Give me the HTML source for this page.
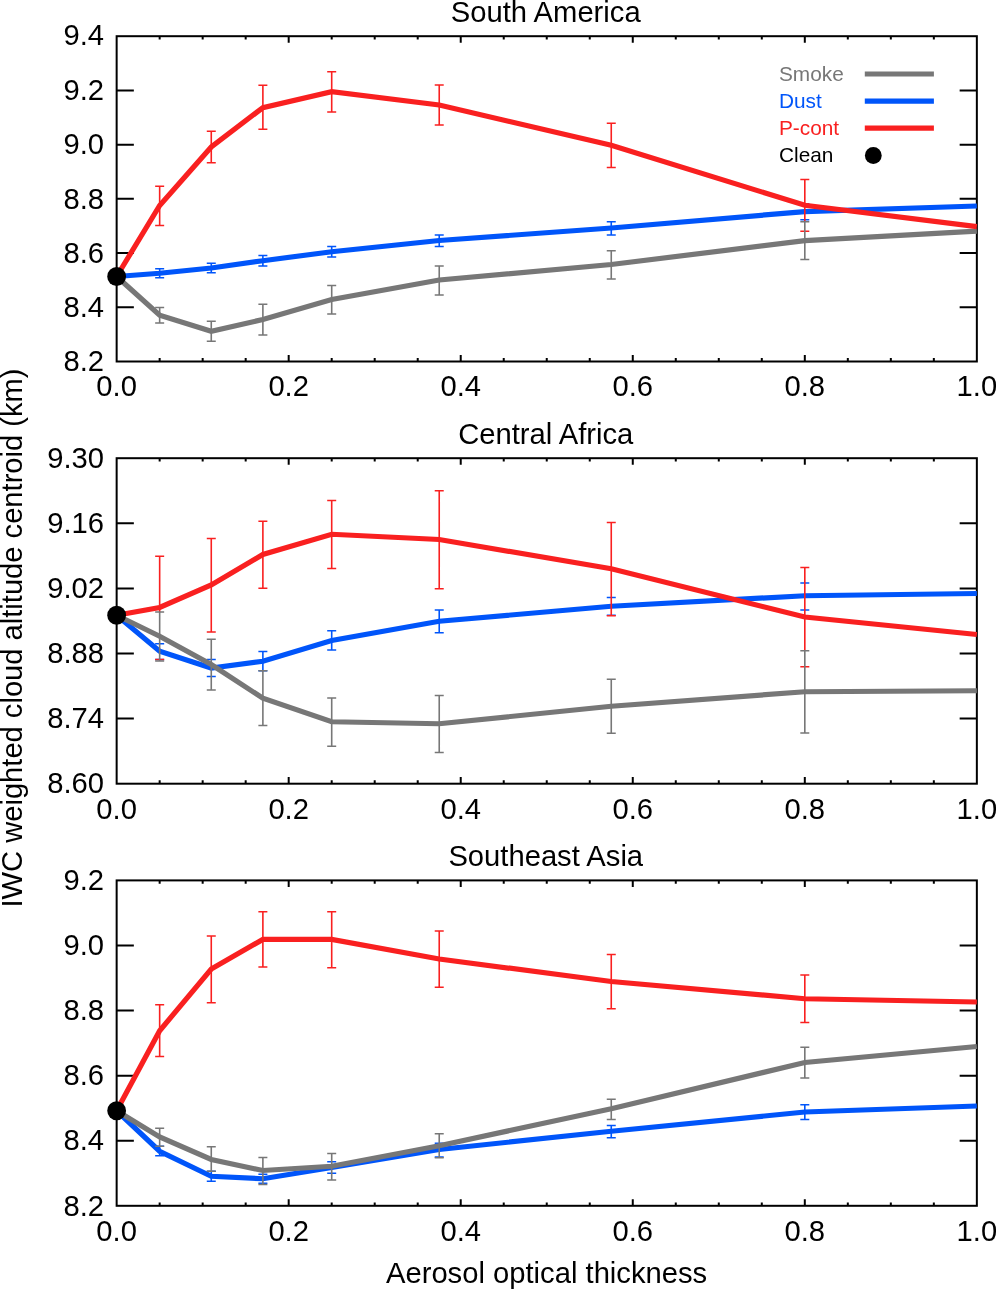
<!DOCTYPE html>
<html lang="en"><head><meta charset="utf-8"><title>IWC weighted cloud altitude centroid vs aerosol optical thickness</title>
<style>html,body{margin:0;padding:0;background:#fff;}body{width:996px;height:1289px;overflow:hidden;}svg{display:block;}text{font-family:"Liberation Sans",Arial,Helvetica,sans-serif;fill:#000;}</style></head><body>
<svg width="996" height="1289" viewBox="0 0 996 1289">
<rect x="0" y="0" width="996" height="1289" fill="#fff"/>
<g>
<text x="545.75" y="21.5" font-size="29.2" text-anchor="middle">South America</text>
<path d="M159.66 36.2v3.4M159.66 361.5v-3.4M202.67 36.2v3.4M202.67 361.5v-3.4M245.68 36.2v3.4M245.68 361.5v-3.4M288.69 36.2v6.6M288.69 361.5v-6.6M331.7 36.2v3.4M331.7 361.5v-3.4M374.71 36.2v3.4M374.71 361.5v-3.4M417.72 36.2v3.4M417.72 361.5v-3.4M460.73 36.2v6.6M460.73 361.5v-6.6M503.74 36.2v3.4M503.74 361.5v-3.4M546.75 36.2v3.4M546.75 361.5v-3.4M589.76 36.2v3.4M589.76 361.5v-3.4M632.77 36.2v6.6M632.77 361.5v-6.6M675.78 36.2v3.4M675.78 361.5v-3.4M718.79 36.2v3.4M718.79 361.5v-3.4M761.8 36.2v3.4M761.8 361.5v-3.4M804.81 36.2v6.6M804.81 361.5v-6.6M847.82 36.2v3.4M847.82 361.5v-3.4M890.83 36.2v3.4M890.83 361.5v-3.4M933.84 36.2v3.4M933.84 361.5v-3.4M116.65 90.42h17.2M976.85 90.42h-17.2M116.65 144.63h17.2M976.85 144.63h-17.2M116.65 198.85h17.2M976.85 198.85h-17.2M116.65 253.07h17.2M976.85 253.07h-17.2M116.65 307.28h17.2M976.85 307.28h-17.2" fill="none" stroke="#000" stroke-width="2"/>
<rect x="116.65" y="36.2" width="860.2" height="325.3" fill="none" stroke="#000" stroke-width="2"/>
<polyline points="116.65,276.5 159.66,273.25 211.27,268 262.88,260.75 331.7,251.75 439.23,240.5 611.26,228 804.81,211.6 976.85,206" fill="none" stroke="#0055fa" stroke-width="5.2" stroke-linejoin="miter" stroke-linecap="butt"/>
<path d="M159.66 268.75V277.75M155.16 268.75H164.16M155.16 277.75H164.16M211.27 263.25V272.75M206.77 263.25H215.77M206.77 272.75H215.77M262.88 255.5V266M258.38 255.5H267.38M258.38 266H267.38M331.7 246.5V257M327.2 246.5H336.2M327.2 257H336.2M439.23 235V246.5M434.73 235H443.73M434.73 246.5H443.73M611.26 221.75V235M606.76 221.75H615.76M606.76 235H615.76M800.31 203.8H809.31M800.31 219.75H809.31" fill="none" stroke="#0055fa" stroke-width="1.6"/>
<polyline points="116.65,276.5 159.66,315.3 211.27,331.25 262.88,319.5 331.7,299.5 439.23,280 611.26,264.5 804.81,240.6 976.85,231.1" fill="none" stroke="#777777" stroke-width="5.2" stroke-linejoin="miter" stroke-linecap="butt"/>
<polyline points="116.65,276.5 159.66,205.5 211.27,147 262.88,107.6 331.7,91.75 439.23,105 611.26,145.3 804.81,205.3 976.85,226.6" fill="none" stroke="#f92020" stroke-width="5.2" stroke-linejoin="miter" stroke-linecap="butt"/>
<path d="M159.66 186.25V225.5M155.16 186.25H164.16M155.16 225.5H164.16M211.27 131.25V162.75M206.77 131.25H215.77M206.77 162.75H215.77M262.88 85.25V129.25M258.38 85.25H267.38M258.38 129.25H267.38M331.7 71.75V112M327.2 71.75H336.2M327.2 112H336.2M439.23 85V125M434.73 85H443.73M434.73 125H443.73M611.26 123.25V167.5M606.76 123.25H615.76M606.76 167.5H615.76M804.81 179.5V221.75M800.31 179.5H809.31M800.31 231.25H809.31" fill="none" stroke="#f92020" stroke-width="1.6"/>
<path d="M159.66 307.5V323M155.16 307.5H164.16M155.16 323H164.16M211.27 321.25V341.25M206.77 321.25H215.77M206.77 341.25H215.77M262.88 304.25V335M258.38 304.25H267.38M258.38 335H267.38M331.7 285.5V314M327.2 285.5H336.2M327.2 314H336.2M439.23 266V295M434.73 266H443.73M434.73 295H443.73M611.26 250.75V279M606.76 250.75H615.76M606.76 279H615.76M804.81 221.75V259.5M800.31 221.75H809.31M800.31 259.5H809.31" fill="none" stroke="#777777" stroke-width="1.6"/>
<circle cx="116.65" cy="276.5" r="9.4" fill="#000"/>
<text x="104" y="45.2" font-size="29.2" text-anchor="end">9.4</text>
<text x="104" y="100.12" font-size="29.2" text-anchor="end">9.2</text>
<text x="104" y="154.33" font-size="29.2" text-anchor="end">9.0</text>
<text x="104" y="208.55" font-size="29.2" text-anchor="end">8.8</text>
<text x="104" y="262.77" font-size="29.2" text-anchor="end">8.6</text>
<text x="104" y="316.98" font-size="29.2" text-anchor="end">8.4</text>
<text x="104" y="371.2" font-size="29.2" text-anchor="end">8.2</text>
<text x="116.65" y="396.3" font-size="29.2" text-anchor="middle">0.0</text>
<text x="288.69" y="396.3" font-size="29.2" text-anchor="middle">0.2</text>
<text x="460.73" y="396.3" font-size="29.2" text-anchor="middle">0.4</text>
<text x="632.77" y="396.3" font-size="29.2" text-anchor="middle">0.6</text>
<text x="804.81" y="396.3" font-size="29.2" text-anchor="middle">0.8</text>
<text x="976.85" y="396.3" font-size="29.2" text-anchor="middle">1.0</text>
</g>
<g>
<text x="545.75" y="443.6" font-size="29.2" text-anchor="middle">Central Africa</text>
<path d="M159.66 458.2v3.4M159.66 783.7v-3.4M202.67 458.2v3.4M202.67 783.7v-3.4M245.68 458.2v3.4M245.68 783.7v-3.4M288.69 458.2v6.6M288.69 783.7v-6.6M331.7 458.2v3.4M331.7 783.7v-3.4M374.71 458.2v3.4M374.71 783.7v-3.4M417.72 458.2v3.4M417.72 783.7v-3.4M460.73 458.2v6.6M460.73 783.7v-6.6M503.74 458.2v3.4M503.74 783.7v-3.4M546.75 458.2v3.4M546.75 783.7v-3.4M589.76 458.2v3.4M589.76 783.7v-3.4M632.77 458.2v6.6M632.77 783.7v-6.6M675.78 458.2v3.4M675.78 783.7v-3.4M718.79 458.2v3.4M718.79 783.7v-3.4M761.8 458.2v3.4M761.8 783.7v-3.4M804.81 458.2v6.6M804.81 783.7v-6.6M847.82 458.2v3.4M847.82 783.7v-3.4M890.83 458.2v3.4M890.83 783.7v-3.4M933.84 458.2v3.4M933.84 783.7v-3.4M116.65 523.3h17.2M976.85 523.3h-17.2M116.65 588.4h17.2M976.85 588.4h-17.2M116.65 653.5h17.2M976.85 653.5h-17.2M116.65 718.6h17.2M976.85 718.6h-17.2" fill="none" stroke="#000" stroke-width="2"/>
<rect x="116.65" y="458.2" width="860.2" height="325.5" fill="none" stroke="#000" stroke-width="2"/>
<polyline points="116.65,615.25 159.66,651.25 211.27,668 262.88,661.25 331.7,640.5 439.23,621.25 611.26,606.25 804.81,595.75 976.85,593.5" fill="none" stroke="#0055fa" stroke-width="5.2" stroke-linejoin="miter" stroke-linecap="butt"/>
<path d="M155.16 643.75H164.16M155.16 659.5H164.16M206.77 659.5H215.77M206.77 676.5H215.77M262.88 651.5V670.75M258.38 651.5H267.38M258.38 670.75H267.38M331.7 630.75V650M327.2 630.75H336.2M327.2 650H336.2M439.23 610V632.75M434.73 610H443.73M434.73 632.75H443.73M606.76 597.5H615.76M606.76 615.25H615.76M800.31 583H809.31M800.31 610H809.31" fill="none" stroke="#0055fa" stroke-width="1.6"/>
<polyline points="116.65,615.25 159.66,636.25 211.27,664.5 262.88,698.25 331.7,721.75 439.23,723.75 611.26,706.25 804.81,691.75 976.85,690.75" fill="none" stroke="#777777" stroke-width="5.2" stroke-linejoin="miter" stroke-linecap="butt"/>
<polyline points="116.65,615.25 159.66,607.5 211.27,585 262.88,554.5 331.7,534.25 439.23,539.5 611.26,568.75 804.81,617 976.85,634.5" fill="none" stroke="#f92020" stroke-width="5.2" stroke-linejoin="miter" stroke-linecap="butt"/>
<path d="M159.66 556.25V612M155.16 556.25H164.16M155.16 659.5H164.16M211.27 538.5V632M206.77 538.5H215.77M206.77 632H215.77M262.88 521.25V588.25M258.38 521.25H267.38M258.38 588.25H267.38M331.7 500.5V568.5M327.2 500.5H336.2M327.2 568.5H336.2M439.23 490.75V588.75M434.73 490.75H443.73M434.73 588.75H443.73M611.26 522.5V615.75M606.76 522.5H615.76M606.76 615.75H615.76M804.81 567.5V650.75M800.31 567.5H809.31M800.31 666.75H809.31" fill="none" stroke="#f92020" stroke-width="1.6"/>
<path d="M159.66 612V661M155.16 612H164.16M155.16 661H164.16M211.27 639.25V690M206.77 639.25H215.77M206.77 690H215.77M262.88 670.75V725.5M258.38 670.75H267.38M258.38 725.5H267.38M331.7 698V746.25M327.2 698H336.2M327.2 746.25H336.2M439.23 695.5V752.5M434.73 695.5H443.73M434.73 752.5H443.73M611.26 679.25V733.25M606.76 679.25H615.76M606.76 733.25H615.76M804.81 650.75V733M800.31 650.75H809.31M800.31 733H809.31" fill="none" stroke="#777777" stroke-width="1.6"/>
<circle cx="116.65" cy="615.25" r="9.4" fill="#000"/>
<text x="104" y="467.9" font-size="29.2" text-anchor="end">9.30</text>
<text x="104" y="533" font-size="29.2" text-anchor="end">9.16</text>
<text x="104" y="598.1" font-size="29.2" text-anchor="end">9.02</text>
<text x="104" y="663.2" font-size="29.2" text-anchor="end">8.88</text>
<text x="104" y="728.3" font-size="29.2" text-anchor="end">8.74</text>
<text x="104" y="793.4" font-size="29.2" text-anchor="end">8.60</text>
<text x="116.65" y="818.5" font-size="29.2" text-anchor="middle">0.0</text>
<text x="288.69" y="818.5" font-size="29.2" text-anchor="middle">0.2</text>
<text x="460.73" y="818.5" font-size="29.2" text-anchor="middle">0.4</text>
<text x="632.77" y="818.5" font-size="29.2" text-anchor="middle">0.6</text>
<text x="804.81" y="818.5" font-size="29.2" text-anchor="middle">0.8</text>
<text x="976.85" y="818.5" font-size="29.2" text-anchor="middle">1.0</text>
</g>
<g>
<text x="545.75" y="865.6" font-size="29.2" text-anchor="middle">Southeast Asia</text>
<path d="M159.66 880.4v3.4M159.66 1205.8v-3.4M202.67 880.4v3.4M202.67 1205.8v-3.4M245.68 880.4v3.4M245.68 1205.8v-3.4M288.69 880.4v6.6M288.69 1205.8v-6.6M331.7 880.4v3.4M331.7 1205.8v-3.4M374.71 880.4v3.4M374.71 1205.8v-3.4M417.72 880.4v3.4M417.72 1205.8v-3.4M460.73 880.4v6.6M460.73 1205.8v-6.6M503.74 880.4v3.4M503.74 1205.8v-3.4M546.75 880.4v3.4M546.75 1205.8v-3.4M589.76 880.4v3.4M589.76 1205.8v-3.4M632.77 880.4v6.6M632.77 1205.8v-6.6M675.78 880.4v3.4M675.78 1205.8v-3.4M718.79 880.4v3.4M718.79 1205.8v-3.4M761.8 880.4v3.4M761.8 1205.8v-3.4M804.81 880.4v6.6M804.81 1205.8v-6.6M847.82 880.4v3.4M847.82 1205.8v-3.4M890.83 880.4v3.4M890.83 1205.8v-3.4M933.84 880.4v3.4M933.84 1205.8v-3.4M116.65 945.48h17.2M976.85 945.48h-17.2M116.65 1010.56h17.2M976.85 1010.56h-17.2M116.65 1075.64h17.2M976.85 1075.64h-17.2M116.65 1140.72h17.2M976.85 1140.72h-17.2" fill="none" stroke="#000" stroke-width="2"/>
<rect x="116.65" y="880.4" width="860.2" height="325.4" fill="none" stroke="#000" stroke-width="2"/>
<polyline points="116.65,1110.75 159.66,1151.25 211.27,1176.25 262.88,1178.75 331.7,1167.5 439.23,1149.5 611.26,1131.25 804.81,1112 976.85,1106" fill="none" stroke="#0055fa" stroke-width="5.2" stroke-linejoin="miter" stroke-linecap="butt"/>
<path d="M159.66 1146.25V1155.75M155.16 1146.25H164.16M155.16 1155.75H164.16M211.27 1171.25V1181.25M206.77 1171.25H215.77M206.77 1181.25H215.77M258.38 1174.25H267.38M258.38 1183.25H267.38M327.2 1161.75H336.2M327.2 1173.25H336.2M434.73 1143.25H443.73M434.73 1157H443.73M611.26 1125.5V1137.75M606.76 1125.5H615.76M606.76 1137.75H615.76M804.81 1104.75V1119.5M800.31 1104.75H809.31M800.31 1119.5H809.31" fill="none" stroke="#0055fa" stroke-width="1.6"/>
<polyline points="116.65,1110.75 159.66,1137 211.27,1159.5 262.88,1170.5 331.7,1166.25 439.23,1145.75 611.26,1108.75 804.81,1062.5 976.85,1046.5" fill="none" stroke="#777777" stroke-width="5.2" stroke-linejoin="miter" stroke-linecap="butt"/>
<polyline points="116.65,1110.75 159.66,1030.75 211.27,969 262.88,939.4 331.7,939.4 439.23,959 611.26,981.5 804.81,998.75 976.85,1002" fill="none" stroke="#f92020" stroke-width="5.2" stroke-linejoin="miter" stroke-linecap="butt"/>
<path d="M159.66 1004.75V1056.5M155.16 1004.75H164.16M155.16 1056.5H164.16M211.27 936V1002.75M206.77 936H215.77M206.77 1002.75H215.77M262.88 911.75V967M258.38 911.75H267.38M258.38 967H267.38M331.7 911.75V967.75M327.2 911.75H336.2M327.2 967.75H336.2M439.23 931V987.25M434.73 931H443.73M434.73 987.25H443.73M611.26 954.5V1008.75M606.76 954.5H615.76M606.76 1008.75H615.76M804.81 975V1022.5M800.31 975H809.31M800.31 1022.5H809.31" fill="none" stroke="#f92020" stroke-width="1.6"/>
<path d="M159.66 1128.25V1146.25M155.16 1128.25H164.16M155.16 1146.25H164.16M211.27 1146.75V1171.25M206.77 1146.75H215.77M206.77 1171.25H215.77M262.88 1157.5V1184.5M258.38 1157.5H267.38M258.38 1184.5H267.38M331.7 1153.5V1180M327.2 1153.5H336.2M327.2 1180H336.2M439.23 1133.75V1157.75M434.73 1133.75H443.73M434.73 1157.75H443.73M611.26 1099.25V1119.5M606.76 1099.25H615.76M606.76 1119.5H615.76M804.81 1047.25V1078M800.31 1047.25H809.31M800.31 1078H809.31" fill="none" stroke="#777777" stroke-width="1.6"/>
<circle cx="116.65" cy="1110.75" r="9.4" fill="#000"/>
<text x="104" y="890.1" font-size="29.2" text-anchor="end">9.2</text>
<text x="104" y="955.18" font-size="29.2" text-anchor="end">9.0</text>
<text x="104" y="1020.26" font-size="29.2" text-anchor="end">8.8</text>
<text x="104" y="1085.34" font-size="29.2" text-anchor="end">8.6</text>
<text x="104" y="1150.42" font-size="29.2" text-anchor="end">8.4</text>
<text x="104" y="1215.5" font-size="29.2" text-anchor="end">8.2</text>
<text x="116.65" y="1240.6" font-size="29.2" text-anchor="middle">0.0</text>
<text x="288.69" y="1240.6" font-size="29.2" text-anchor="middle">0.2</text>
<text x="460.73" y="1240.6" font-size="29.2" text-anchor="middle">0.4</text>
<text x="632.77" y="1240.6" font-size="29.2" text-anchor="middle">0.6</text>
<text x="804.81" y="1240.6" font-size="29.2" text-anchor="middle">0.8</text>
<text x="976.85" y="1240.6" font-size="29.2" text-anchor="middle">1.0</text>
</g>
<text x="779" y="80.6" font-size="20.8" style="fill:#777777">Smoke</text>
<line x1="864.8" y1="74" x2="933.9" y2="74" stroke="#777777" stroke-width="5.2"/>
<text x="779" y="107.7" font-size="20.8" style="fill:#0055fa">Dust</text>
<line x1="864.8" y1="101.1" x2="933.9" y2="101.1" stroke="#0055fa" stroke-width="5.2"/>
<text x="779" y="134.8" font-size="20.8" style="fill:#f92020">P-cont</text>
<line x1="864.8" y1="128.2" x2="933.9" y2="128.2" stroke="#f92020" stroke-width="5.2"/>
<text x="779" y="161.9" font-size="20.8" style="fill:#000">Clean</text>
<circle cx="873.3" cy="155.5" r="8.4" fill="#000"/>
<text x="546.6" y="1282.6" font-size="29.2" text-anchor="middle">Aerosol optical thickness</text>
<text transform="translate(22,638) rotate(-90)" font-size="29.13" text-anchor="middle">IWC weighted cloud altitude centroid (km)</text>
</svg></body></html>
